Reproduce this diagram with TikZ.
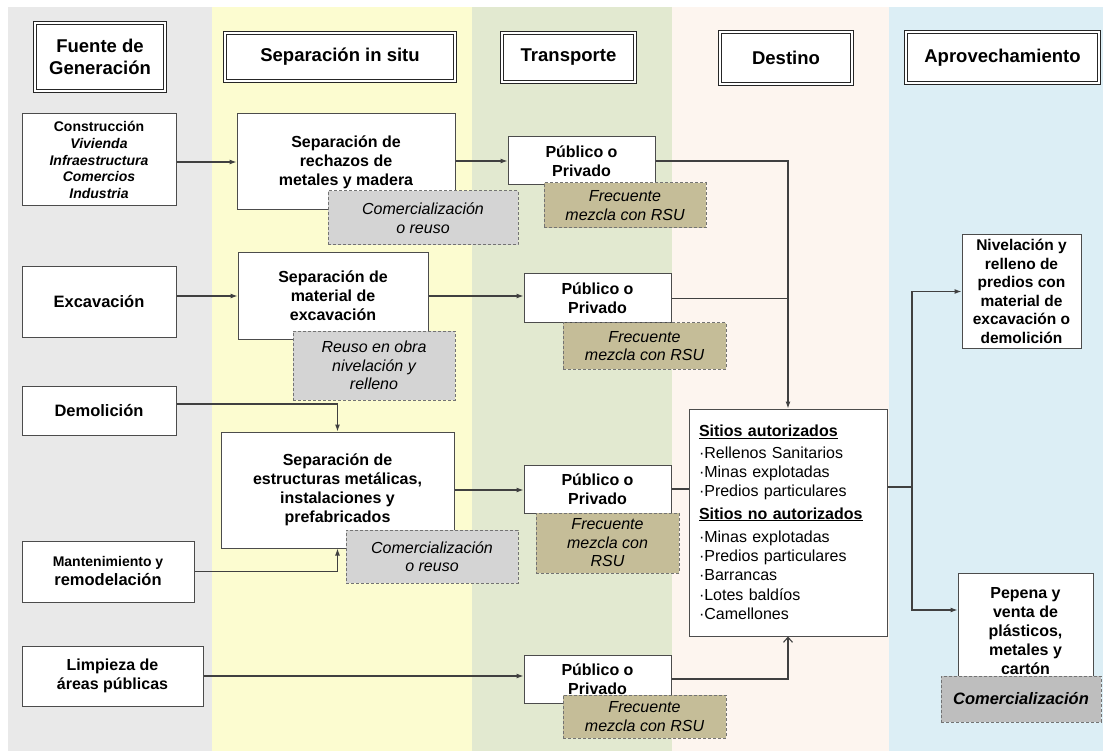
\documentclass[tikz,border=0pt]{standalone}
\usepackage{fontspec}
\setmainfont{Liberation Sans}
\usetikzlibrary{arrows.meta}

\definecolor{bandgray}{HTML}{E9E9E9}
\definecolor{bandyellow}{HTML}{FCFCD0}
\definecolor{bandgreen}{HTML}{E2E9D0}
\definecolor{bandpink}{HTML}{FDF5EF}
\definecolor{bandblue}{HTML}{DCEEF5}
\definecolor{notegray}{HTML}{D4D4D4}
\definecolor{mixtan}{HTML}{C5BD98}
\definecolor{sellgray}{HTML}{BEBEBE}

\begin{document}
\begin{tikzpicture}[x=1pt, y=-1pt,
    head/.style = {draw=black!85, fill=white, double=white, double distance=1.5pt, line width=0.9pt, align=center, inner sep=0pt, font=\fontsize{18.5}{22}\selectfont\bfseries},
    box/.style = {draw=black!70, fill=white, line width=1pt, align=center, inner sep=0pt, font=\fontsize{16}{19}\selectfont\bfseries},
    note/.style = {draw=black!55, fill=notegray, line width=1pt, dash pattern=on 3pt off 2pt, align=center, inner sep=0pt, font=\fontsize{16}{18.5}\selectfont\itshape},
    mix/.style = {note, fill=mixtan},
    flow/.style = {draw=black!75, line width=1.1pt, -{Latex[length=7pt,width=5pt]}},
    openflow/.style = {draw=black!75, line width=1.1pt, -{Straight Barb[length=5pt,width=9pt]}},
    wire/.style = {draw=black!75, line width=1.1pt}]
    \useasboundingbox (0,0) rectangle (1103,751);
    \fill[white] (0,0) rectangle (1103,751);
    % column bands
    \fill[bandgray] (8,7) rectangle (212,751);
    \fill[bandyellow] (212,7) rectangle (472,751);
    \fill[bandgreen] (472,7) rectangle (672,751);
    \fill[bandpink] (672,7) rectangle (889,751);
    \fill[bandblue] (889,7) rectangle (1103,751);
    % headers
    \node[head, minimum width=130pt, minimum height=68pt] (hFuente) at (100,57) {Fuente de\\Generación};
    \node[head, minimum width=230pt, minimum height=48pt] (hSep) at (340,57) {Separación in situ};
    \node[head, minimum width=133pt, minimum height=49pt] (hTrans) at (568.5,57.5) {Transporte};
    \node[head, minimum width=132pt, minimum height=52pt] (hDest) at (786,58) {Destino};
    \node[head, minimum width=193pt, minimum height=51pt] (hApro) at (1002.5,57.5) {Aprovechamiento};
    % fuentes
    \node[box, minimum width=154pt, minimum height=92pt, font=\fontsize{14}{16.7}\selectfont\bfseries] (src1) at (99,160)
        {Construcción\\\textit{Vivienda}\\\textit{Infraestructura}\\\textit{Comercios}\\\textit{Industria}};
    \node[box, minimum width=154pt, minimum height=70pt, font=\fontsize{16.5}{19}\selectfont\bfseries] (src2) at (99,302) {Excavación};
    \node[box, minimum width=154pt, minimum height=49pt, font=\fontsize{16.5}{19}\selectfont\bfseries] (src3) at (99,410.5) {Demolición};
    \node[box, minimum width=172pt, minimum height=61pt] (src4) at (108,571.5)
        {{\fontsize{14}{17}\selectfont Mantenimiento y}\\{\fontsize{16.5}{19}\selectfont remodelación}};
    \node[box, minimum width=181pt, minimum height=60pt] (src5) at (112.5,676) {Limpieza de\\áreas públicas};
    % separacion
    \node[box, minimum width=218pt, minimum height=96pt] (sep1) at (346,162) {Separación de\\rechazos de\\metales y madera};
    \node[box, minimum width=190pt, minimum height=86pt] (sep2) at (333,296) {Separación de\\material de\\excavación};
    \node[box, minimum width=233pt, minimum height=116pt] (sep3) at (337.5,490) {Separación de\\estructuras metálicas,\\instalaciones y\\prefabricados};
    \node[note, minimum width=190pt, minimum height=54pt] (reuse1) at (423,218) {Comercialización\\o reuso};
    \node[note, minimum width=162pt, minimum height=69pt] (reuse2) at (374,365.5) {Reuso en obra\\nivelación y\\relleno};
    \node[note, minimum width=172pt, minimum height=53pt] (reuse3) at (432,556.5) {Comercialización\\o reuso};
    % transporte
    \node[box, minimum width=147pt, minimum height=48pt] (pub1) at (581.5,161) {Público o\\Privado};
    \node[box, minimum width=147pt, minimum height=49pt] (pub2) at (597.5,298.5) {Público o\\Privado};
    \node[box, minimum width=147pt, minimum height=48pt] (pub3) at (597.5,489) {Público o\\Privado};
    \node[box, minimum width=147pt, minimum height=48pt] (pub4) at (597.5,679) {Público o\\Privado};
    \node[mix, minimum width=162pt, minimum height=45pt] (mix1) at (625,205.5) {Frecuente\\mezcla con RSU};
    \node[mix, minimum width=163pt, minimum height=46pt] (mix2) at (644.5,346) {Frecuente\\mezcla con RSU};
    \node[mix, minimum width=143pt, minimum height=60pt] (mix3) at (607.5,543) {Frecuente\\mezcla con\\RSU};
    \node[mix, minimum width=163pt, minimum height=43pt] (mix4) at (644.5,716.5) {Frecuente\\mezcla con RSU};
    % destino
    \node[box, minimum width=198pt, minimum height=227pt, align=left, text width=178pt, font=\fontsize{16}{19.3}\selectfont] (sitios) at (788,522.5)
        {\textbf{\underline{Sitios autorizados}}\\[2pt]
         ·Rellenos Sanitarios\\·Minas explotadas\\·Predios particulares\\[3pt]
         \textbf{\underline{Sitios no autorizados}}\\[4pt]
         ·Minas explotadas\\·Predios particulares\\·Barrancas\\·Lotes baldíos\\·Camellones};
    % aprovechamiento
    \node[box, minimum width=119pt, minimum height=113pt, font=\fontsize{15.5}{18.5}\selectfont\bfseries] (nivel) at (1021.5,291.5)
        {Nivelación y\\relleno de\\predios con\\material de\\excavación o\\demolición};
    \node[box, minimum width=135pt, minimum height=117pt] (pepena) at (1025.5,631.5) {Pepena y\\venta de\\plásticos,\\metales y\\cartón};
    \node[note, fill=sellgray, minimum width=160pt, minimum height=46pt, font=\fontsize{16.5}{19}\selectfont\bfseries\itshape] (sell) at (1021,699) {Comercialización};
    % flujos
    \draw[flow] (src1.east |- sep1) -- (sep1.west);
    \draw[flow] (sep1.east |- pub1) -- (pub1.west);
    \draw[flow] (src2.east |- sep2) -- (sep2.west);
    \draw[flow] (sep2.east) -- (sep2.east -| pub2.west);
    \draw[flow] ([yshift=6.5pt]src3.east) -| (sep3.north);
    \draw[flow] (src4.east) -| (sep3.south);
    \draw[flow] (sep3.east) -- (sep3.east -| pub3.west);
    \draw[flow] (src5.east) -- (src5.east -| pub4.west);
    \draw[flow] (pub1.east) -| (sitios.north);
    \draw[wire] (pub2.east) -- (pub2.east -| sitios.north);
    \draw[wire] (pub3.east) -- (pub3.east -| sitios.west);
    \draw[openflow] (pub4.east) -| (sitios.south);
    \coordinate (fork) at (912,487);
    \draw[wire] (fork -| sitios.east) -- (fork);
    \draw[flow] (fork) |- (nivel.west);
    \draw[flow] (fork) |- ([yshift=21.5pt]pepena.west);
\end{tikzpicture}
\end{document}
